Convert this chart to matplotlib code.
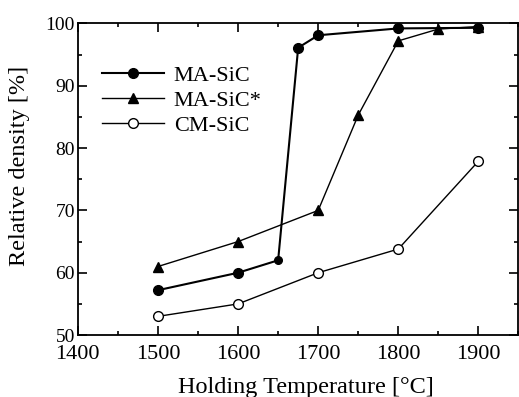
import numpy as np
import matplotlib.pyplot as plt
from matplotlib.ticker import MultipleLocator

plt.rcParams['font.family'] = ['Liberation Serif', 'DejaVu Serif']

# 数据
temp_ma = [1500, 1600, 1650, 1675, 1700, 1800, 1900]
dens_ma = [57.2, 60.0, 62.0, 96.1, 98.1, 99.2, 99.3]

temp_ma2 = [1500, 1600, 1700, 1750, 1800, 1850, 1900]
dens_ma2 = [61.0, 65.0, 70.0, 85.3, 97.2, 99.1, 99.5]

temp_cm = [1500, 1600, 1700, 1800, 1900]
dens_cm = [53.0, 55.0, 60.0, 63.8, 77.9]

fig = plt.figure(figsize=(5.19, 3.97), dpi=100)
ax = fig.add_axes([0.150, 0.156, 0.849, 0.785])

# MA-SiC: 1650 的点较小
big = [i for i in range(len(temp_ma)) if temp_ma[i] != 1650]
ax.plot(temp_ma, dens_ma, color='black', lw=1.5, marker='o', ms=7,
        markevery=big, label='MA-SiC')
ax.plot([temp_ma[2]], [dens_ma[2]], color='black', marker='o', ms=5.5, ls='none')
ax.plot(temp_ma2, dens_ma2, color='black', lw=1.0, marker='^', ms=7.5,
        label='MA-SiC*')
ax.plot(temp_cm, dens_cm, color='black', lw=1.0, marker='o', ms=7,
        markerfacecolor='white', label='CM-SiC')

ax.set_xlim(1400, 1950)
ax.set_ylim(50, 100)
ax.xaxis.set_major_locator(MultipleLocator(100))
ax.xaxis.set_minor_locator(MultipleLocator(50))
ax.yaxis.set_major_locator(MultipleLocator(10))
ax.yaxis.set_minor_locator(MultipleLocator(5))
ax.tick_params(which='both', direction='in', top=True, right=True,
               labelsize=16, width=1.2)
ax.tick_params(which='major', length=6.5)
ax.tick_params(which='minor', length=3)
ax.tick_params(axis='x', pad=7.5)
ax.tick_params(axis='y', pad=2, labelsize=14)
for s in ax.spines.values():
    s.set_linewidth(1.3)

ax.set_xlabel('Holding Temperature [°C]', fontsize=17.5)
ax.set_ylabel('Relative density [%]', fontsize=17.5)
ax.xaxis.set_label_coords(0.517, -0.135)
ax.yaxis.set_label_coords(-0.108, 0.542)

ax.legend(loc='upper left', bbox_to_anchor=(0.054, 0.865), frameon=False,
          fontsize=16, handlelength=2.8, handletextpad=0.45,
          labelspacing=0.2, borderpad=0, borderaxespad=0)

fig.savefig('out.png', dpi=100)
